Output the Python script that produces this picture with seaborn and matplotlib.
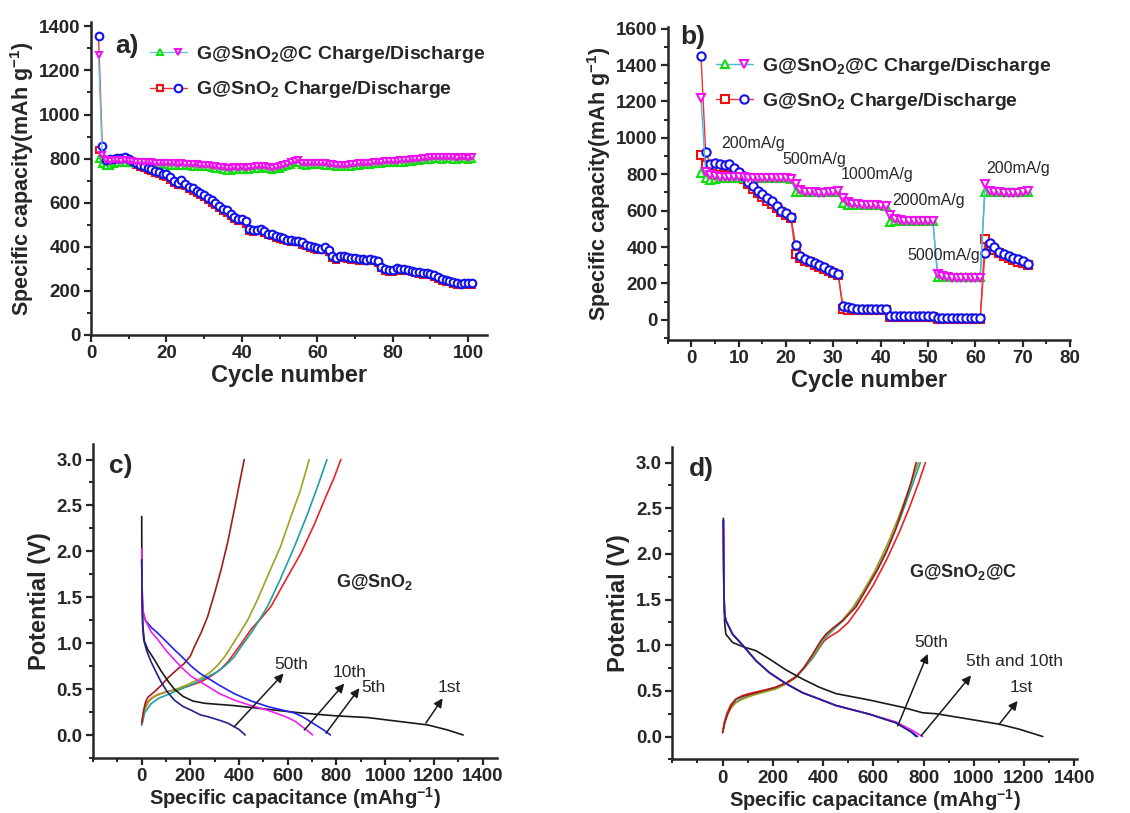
import matplotlib
matplotlib.use("Agg")
import matplotlib.pyplot as plt
from matplotlib.ticker import MultipleLocator
from matplotlib.legend_handler import HandlerTuple
import seaborn as sns

sns.set_style("ticks")
plt.rcParams['font.family'] = ['Liberation Sans', 'DejaVu Sans']
plt.rcParams['font.weight'] = 'bold'
plt.rcParams['mathtext.fontset'] = 'custom'
plt.rcParams['mathtext.rm'] = 'Liberation Sans'
plt.rcParams['mathtext.bf'] = 'Liberation Sans:bold'
plt.rcParams['mathtext.default'] = 'bf'

# ---- panel a: cycling at 200 mA/g ----
a_cycles = list(range(2, 102))
a_sno2_dis = [1358, 855, 795, 800, 800, 802, 805, 808, 798, 790,
              780, 772, 765, 758, 752, 745, 738, 732, 728, 715,
              700, 690, 702, 685, 672, 665, 655, 645, 635, 622,
              612, 600, 585, 572, 565, 550, 535, 528, 525, 515,
              480, 478, 478, 482, 470, 460, 458, 450, 445, 438,
              432, 430, 428, 428, 420, 410, 402, 398, 393, 392,
              398, 385, 358, 348, 358, 356, 352, 350, 348, 345,
              343, 342, 345, 342, 335, 310, 298, 295, 293, 303,
              300, 298, 296, 292, 287, 284, 282, 280, 278, 272,
              262, 255, 250, 246, 240, 234, 233, 235, 236, 235]
a_sno2_chg = [840, 800, 772, 770, 785, 790, 795, 798, 790, 782,
              772, 763, 756, 749, 742, 735, 728, 722, 716, 703,
              690, 680, 688, 674, 662, 655, 645, 635, 624, 612,
              600, 590, 575, 562, 555, 540, 526, 518, 515, 505,
              470, 468, 470, 472, 462, 452, 448, 442, 436, 430,
              424, 421, 420, 420, 410, 402, 394, 390, 385, 384,
              390, 375, 350, 340, 350, 347, 344, 342, 340, 337,
              335, 334, 337, 334, 326, 302, 290, 287, 286, 296,
              292, 290, 288, 284, 279, 276, 274, 272, 270, 264,
              254, 247, 242, 238, 232, 226, 226, 228, 229, 228]
a_snc_dis = [1270, 815, 795, 790, 795, 792, 790, 792, 790, 788,
             786, 785, 785, 784, 783, 782, 780, 780, 779, 778,
             778, 777, 778, 776, 775, 774, 774, 773, 772, 770,
             768, 765, 762, 760, 758, 758, 760, 758, 760, 758,
             760, 762, 765, 765, 768, 762, 758, 762, 765, 770,
             775, 785, 790, 792, 780, 778, 780, 782, 782, 780,
             778, 775, 775, 772, 772, 770, 772, 774, 775, 778,
             780, 782, 782, 784, 785, 786, 788, 788, 790, 790,
             792, 792, 794, 796, 798, 800, 802, 804, 806, 808,
             808, 806, 808, 808, 806, 805, 806, 806, 805, 806]
a_snc_chg = [800, 775, 768, 768, 775, 778, 780, 780, 780, 778,
             776, 775, 775, 774, 773, 772, 770, 770, 769, 768,
             768, 767, 768, 766, 765, 764, 764, 763, 762, 760,
             758, 755, 752, 748, 745, 746, 748, 748, 750, 748,
             750, 752, 755, 755, 758, 752, 748, 752, 755, 760,
             765, 772, 778, 780, 770, 768, 770, 772, 772, 770,
             768, 765, 765, 762, 762, 760, 762, 764, 765, 768,
             770, 772, 772, 774, 775, 776, 778, 778, 780, 780,
             782, 782, 784, 786, 788, 790, 792, 794, 795, 796,
             796, 795, 796, 796, 795, 795, 796, 796, 795, 796]

# ---- panel b: rate capability ----
b_cycles = list(range(2, 72))
b_sno2_dis = [1450, 920, 855, 860, 855, 850, 855, 835, 812, 790,
              760, 735, 710, 690, 672, 655, 628, 600, 585, 565,
              410, 350, 335, 325, 312, 300, 288, 275, 262, 250,
              75, 70, 65, 62, 60, 58, 58, 58, 58, 58,
              22, 22, 22, 22, 22, 22, 22, 22, 22, 22,
              8, 8, 8, 8, 8, 8, 8, 8, 8, 8,
              365, 420, 400, 375, 360, 350, 340, 332, 322, 308]
b_sno2_chg = [905, 850, 845, 845, 840, 840, 840, 825, 800, 775,
              745, 720, 695, 675, 655, 635, 615, 590, 575, 560,
              360, 340, 325, 315, 300, 290, 278, 268, 258, 248,
              60, 55, 55, 55, 55, 55, 55, 55, 55, 55,
              15, 15, 15, 15, 15, 15, 15, 15, 15, 15,
              3, 3, 3, 3, 3, 3, 3, 3, 3, 3,
              445, 405, 385, 365, 350, 340, 330, 320, 310, 300]
b_snc_dis = [1220, 810, 795, 790, 785, 785, 785, 785, 785, 785,
             782, 782, 782, 780, 780, 780, 780, 780, 778, 775,
             745, 712, 702, 700, 700, 698, 698, 700, 705, 710,
             670, 645, 638, 635, 632, 632, 630, 630, 628, 628,
             575, 555, 548, 545, 545, 545, 545, 545, 545, 545,
             250, 240, 235, 232, 230, 232, 232, 232, 232, 232,
             745, 710, 702, 700, 698, 695, 695, 698, 705, 708]
b_snc_chg = [805, 780, 770, 775, 778, 780, 780, 780, 780, 780,
             780, 780, 780, 780, 780, 780, 780, 780, 778, 775,
             705, 700, 700, 700, 700, 700, 700, 700, 700, 700,
             640, 632, 632, 630, 630, 630, 630, 630, 630, 628,
             540, 545, 545, 545, 545, 545, 545, 545, 545, 545,
             235, 235, 235, 235, 235, 235, 235, 235, 235, 235,
             700, 700, 700, 700, 700, 700, 700, 700, 700, 700]
b_rates = ["200mA/g", "500mA/g", "1000mA/g", "2000mA/g", "5000mA/g", "200mA/g"]
b_rate_pos = [(6.2, 967), (19.1, 879), (31.6, 797), (42.4, 654), (45.6, 352), (62.3, 830)]

# ---- panel c: G@SnO2 voltage profiles ----
c_curves = {
    "dis_1st": ([0, 1, 4, 11, 25, 50, 79, 110, 134, 170, 210, 260, 380, 517, 654, 791, 928, 1065, 1174, 1256, 1320],
                [2.38, 1.6, 1.2, 1.02, 0.93, 0.83, 0.70, 0.58, 0.50, 0.42, 0.37, 0.345, 0.32, 0.28, 0.24, 0.21, 0.19, 0.145, 0.11, 0.055, 0.0]),
    "dis_5th": ([0, 2, 6, 15, 40, 66, 100, 134, 170, 203, 240, 271, 320, 380, 450, 517, 580, 627, 660, 690, 720, 750, 775],
                [1.91, 1.5, 1.32, 1.25, 1.17, 1.11, 1.02, 0.93, 0.84, 0.75, 0.67, 0.62, 0.54, 0.45, 0.37, 0.31, 0.27, 0.24, 0.20, 0.15, 0.10, 0.05, 0.0]),
    "dis_10th": ([0, 2, 6, 15, 40, 66, 100, 134, 170, 203, 240, 271, 320, 380, 450, 517, 560, 599, 630, 654, 680, 702],
                 [2.03, 1.6, 1.35, 1.25, 1.12, 1.04, 0.92, 0.82, 0.72, 0.64, 0.58, 0.53, 0.45, 0.38, 0.32, 0.27, 0.23, 0.19, 0.15, 0.10, 0.05, 0.0]),
    "dis_50th": ([0, 2, 5, 8, 20, 38, 60, 79, 105, 134, 170, 203, 240, 271, 320, 353, 380, 400, 425],
                 [1.91, 1.4, 1.15, 1.04, 0.92, 0.80, 0.68, 0.58, 0.47, 0.38, 0.31, 0.27, 0.22, 0.20, 0.16, 0.13, 0.09, 0.06, 0.0]),
    "chg_1st": ([0, 4, 10, 25, 40, 66, 100, 134, 190, 244, 290, 326, 355, 380, 410, 449, 490, 531, 590, 654, 710, 757, 790, 818],
                [0.11, 0.16, 0.27, 0.36, 0.40, 0.44, 0.47, 0.49, 0.53, 0.58, 0.65, 0.72, 0.80, 0.89, 1.00, 1.15, 1.27, 1.40, 1.68, 1.98, 2.30, 2.60, 2.80, 3.0]),
    "chg_5th": ([0, 4, 12, 38, 70, 107, 160, 216, 260, 312, 345, 380, 410, 449, 480, 517, 570, 627, 680, 723, 761],
                [0.11, 0.15, 0.24, 0.34, 0.40, 0.44, 0.50, 0.56, 0.62, 0.69, 0.76, 0.85, 0.97, 1.11, 1.24, 1.40, 1.70, 2.05, 2.40, 2.71, 3.0]),
    "chg_10th": ([0, 4, 11, 30, 52, 90, 134, 190, 244, 280, 312, 340, 367, 400, 435, 475, 517, 570, 613, 650, 688],
                 [0.13, 0.20, 0.27, 0.37, 0.42, 0.46, 0.49, 0.55, 0.62, 0.68, 0.76, 0.85, 0.96, 1.10, 1.25, 1.47, 1.73, 2.05, 2.38, 2.65, 3.0]),
    "chg_50th": ([0, 4, 8, 16, 25, 52, 80, 107, 140, 175, 200, 216, 245, 271, 300, 326, 355, 380, 400, 421],
                 [0.13, 0.20, 0.27, 0.36, 0.41, 0.47, 0.54, 0.62, 0.70, 0.78, 0.86, 0.96, 1.12, 1.29, 1.55, 1.80, 2.12, 2.45, 2.72, 3.0]),
}
c_colors = {"dis_1st": "#1a1a1a", "dis_5th": "#2222ee", "dis_10th": "#ee22ee", "dis_50th": "#222288",
            "chg_1st": "#ee2222", "chg_5th": "#1f9f9f", "chg_10th": "#a0a020", "chg_50th": "#a01c1c"}
c_labels = ["50th", "10th", "5th", "1st"]
c_label_pos = [(543, 0.77), (785, 0.68), (901, 0.52), (1215, 0.52)]
c_arrows = [((380, 0.09), (583, 0.67)), ((668, 0.055), (832, 0.56)),
            ((757, 0.02), (894, 0.51)), ((1167, 0.13), (1236, 0.40))]

# ---- panel d: G@SnO2@C voltage profiles ----
d_curves = {
    "dis_1st": ([3, 5, 8, 13, 40, 80, 133, 186, 252, 318, 385, 451, 584, 717, 796, 849, 982, 1101, 1181, 1274],
                [2.39, 1.6, 1.25, 1.12, 1.03, 0.985, 0.94, 0.85, 0.73, 0.63, 0.54, 0.47, 0.40, 0.32, 0.26, 0.25, 0.19, 0.135, 0.08, 0.0]),
    "dis_5th": ([3, 5, 8, 13, 40, 80, 133, 186, 252, 318, 385, 451, 584, 690, 756, 776],
                [2.37, 1.6, 1.35, 1.27, 1.12, 1.0, 0.83, 0.70, 0.58, 0.48, 0.41, 0.34, 0.245, 0.15, 0.044, 0.0]),
    "dis_10th": ([3, 5, 8, 13, 40, 80, 133, 186, 252, 318, 385, 451, 584, 690, 760, 796],
                 [2.37, 1.6, 1.35, 1.27, 1.12, 1.0, 0.83, 0.70, 0.58, 0.48, 0.41, 0.34, 0.245, 0.16, 0.06, 0.0]),
    "dis_50th": ([3, 5, 8, 13, 40, 80, 133, 186, 252, 318, 385, 451, 584, 690, 750, 770],
                 [2.37, 1.6, 1.35, 1.27, 1.12, 1.0, 0.83, 0.70, 0.58, 0.48, 0.41, 0.34, 0.245, 0.15, 0.05, 0.0]),
    "chg_1st": ([0, 3, 8, 18, 33, 53, 80, 119, 170, 212, 255, 292, 325, 358, 385, 405, 430, 460, 500, 545, 600, 655, 705, 745, 780, 807],
                [0.05, 0.09, 0.17, 0.26, 0.35, 0.41, 0.45, 0.48, 0.51, 0.54, 0.59, 0.66, 0.75, 0.86, 0.97, 1.05, 1.10, 1.15, 1.25, 1.42, 1.66, 1.95, 2.25, 2.52, 2.78, 3.0]),
    "chg_5th": ([0, 3, 8, 18, 33, 53, 80, 119, 170, 212, 255, 292, 325, 358, 385, 408, 440, 480, 520, 560, 610, 660, 705, 745, 787],
                [0.05, 0.08, 0.15, 0.23, 0.32, 0.38, 0.42, 0.46, 0.50, 0.53, 0.58, 0.65, 0.75, 0.86, 0.98, 1.08, 1.17, 1.27, 1.40, 1.56, 1.80, 2.08, 2.38, 2.68, 3.0]),
    "chg_10th": ([0, 3, 8, 18, 33, 53, 80, 119, 170, 212, 255, 292, 325, 358, 385, 405, 435, 475, 515, 555, 605, 655, 700, 740, 779],
                 [0.06, 0.09, 0.15, 0.23, 0.31, 0.37, 0.41, 0.45, 0.49, 0.52, 0.58, 0.65, 0.76, 0.88, 1.00, 1.09, 1.17, 1.27, 1.40, 1.57, 1.81, 2.10, 2.40, 2.70, 3.0]),
    "chg_50th": ([0, 3, 8, 20, 35, 53, 80, 133, 212, 255, 292, 325, 358, 391, 411, 440, 478, 531, 577, 615, 648, 690, 723, 750, 770],
                 [0.04, 0.08, 0.15, 0.25, 0.34, 0.41, 0.44, 0.48, 0.54, 0.59, 0.65, 0.76, 0.90, 1.05, 1.12, 1.19, 1.27, 1.42, 1.64, 1.82, 2.0, 2.28, 2.55, 2.78, 3.0]),
}
d_colors = {"dis_1st": "#1a1a1a", "dis_10th": "#ee22ee", "dis_5th": "#2222ee", "dis_50th": "#222288",
            "chg_1st": "#ee2222", "chg_5th": "#1f9f9f", "chg_10th": "#a0a020", "chg_50th": "#a01c1c"}
d_labels = ["50th", "5th and 10th", "1st"]
d_label_pos = [(763, 1.03), (970, 0.82), (1142, 0.54)]
d_arrows = [((697, 0.117), (816, 0.905)), ((790, 0.007), (989, 0.67)), ((1101, 0.135), (1174, 0.39))]

fig = plt.figure(figsize=(11.3, 8.13), dpi=100)
ax_a = fig.add_axes([0.0805, 0.588, 0.3505, 0.385])
ax_b = fig.add_axes([0.591, 0.582, 0.356, 0.385])
ax_c = fig.add_axes([0.0823, 0.0677, 0.3577, 0.3863])
ax_d = fig.add_axes([0.595, 0.066, 0.358, 0.384])


def style_axes(ax):
    sns.despine(ax=ax)
    for s in ("left", "bottom"):
        ax.spines[s].set_linewidth(1.8)
    ax.tick_params(which="major", direction="out", length=5, width=1.6, labelsize=13.5, pad=2.5)
    ax.tick_params(which="minor", direction="out", length=3, width=1.4)
    for lab in ax.get_xticklabels() + ax.get_yticklabels():
        lab.set_fontweight("bold")


def cycle_series(ax, x, y, mk, mcol, lcol, ms):
    sns.lineplot(x=x, y=y, ax=ax, color=lcol, linewidth=1.0, marker=mk, markersize=ms,
                 markerfacecolor="white", markeredgecolor=mcol, markeredgewidth=1.5,
                 estimator=None, sort=False)
    return ax.lines[-1]


def legend_two(ax, handles, anchor):
    labels = [r"G@SnO$_2$@C Charge/Discharge", r"G@SnO$_2$ Charge/Discharge"]
    ax.legend(handles, labels, handler_map={tuple: HandlerTuple(ndivide=None, pad=0.0)},
              loc="upper left", bbox_to_anchor=anchor, frameon=False, handlelength=1.9,
              handletextpad=0.45, labelspacing=0.75, borderaxespad=0, borderpad=0,
              prop={"size": 14, "weight": "bold"})


# panel a
h_red = cycle_series(ax_a, a_cycles, a_sno2_chg, "s", "#ee1111", "#ee3333", 5)
h_green = cycle_series(ax_a, a_cycles, a_snc_chg, "^", "#11dd11", "#66c8e0", 5)
h_blue = cycle_series(ax_a, a_cycles, a_sno2_dis, "o", "#1111ee", "#ee3333", 5.5)
h_mag = cycle_series(ax_a, a_cycles, a_snc_dis, "v", "#ee11ee", "#66c8e0", 5)
ax_a.set_xlim(0, 105)
ax_a.set_ylim(0, 1420)
ax_a.xaxis.set_major_locator(MultipleLocator(20))
ax_a.xaxis.set_minor_locator(MultipleLocator(10))
ax_a.yaxis.set_major_locator(MultipleLocator(200))
ax_a.yaxis.set_minor_locator(MultipleLocator(100))
ax_a.set_xlabel("Cycle number", fontsize=17, fontweight="bold", labelpad=1)
ax_a.set_ylabel(r"Specific capacity(mAh g$^{-1}$)", fontsize=15.5, fontweight="bold", labelpad=2)
style_axes(ax_a)
legend_two(ax_a, [(h_green, h_mag), (h_red, h_blue)], (0.15, 0.93))
ax_a.text(0.061, 0.923, "a)", transform=ax_a.transAxes, fontsize=19, fontweight="bold", va="center")

# panel b
h_red = cycle_series(ax_b, b_cycles, b_sno2_chg, "s", "#ee1111", "#ee3333", 6)
h_green = cycle_series(ax_b, b_cycles, b_snc_chg, "^", "#11dd11", "#4fb8d8", 6)
h_blue = cycle_series(ax_b, b_cycles, b_sno2_dis, "o", "#1111ee", "#ee3333", 6)
h_mag = cycle_series(ax_b, b_cycles, b_snc_dis, "v", "#ee11ee", "#4fb8d8", 6)
ax_b.set_xlim(-5, 80)
ax_b.set_ylim(-110, 1610)
ax_b.xaxis.set_major_locator(MultipleLocator(10))
ax_b.xaxis.set_minor_locator(MultipleLocator(5))
ax_b.yaxis.set_major_locator(MultipleLocator(200))
ax_b.yaxis.set_minor_locator(MultipleLocator(100))
ax_b.set_xlabel("Cycle number", fontsize=17, fontweight="bold", labelpad=1)
ax_b.set_ylabel(r"Specific capacity(mAh g$^{-1}$)", fontsize=15.5, fontweight="bold", labelpad=2)
style_axes(ax_b)
legend_two(ax_b, [(h_green, h_mag), (h_red, h_blue)], (0.12, 0.908))
for txt, (x, y) in zip(b_rates, b_rate_pos):
    ax_b.text(x, y, txt, fontsize=11.5, fontweight="normal", ha="left", va="center")
ax_b.text(0.03, 0.966, "b)", transform=ax_b.transAxes, fontsize=19, fontweight="bold", va="center")


def profile_panel(ax, curves, colors, labels, label_pos, arrows, name, name_pos, tag):
    order = ["chg_1st", "chg_5th", "chg_10th", "chg_50th", "dis_1st", "dis_5th", "dis_10th", "dis_50th"]
    for key in order:
        xs, ys = curves[key]
        sns.lineplot(x=xs, y=ys, ax=ax, color=colors[key], linewidth=1.2, estimator=None, sort=False)
    ax.set_xlim(-200, 1460)
    ax.set_ylim(-0.25, 3.17)
    ax.set_xticks(range(0, 1401, 200))
    ax.xaxis.set_minor_locator(MultipleLocator(100))
    ax.yaxis.set_major_locator(MultipleLocator(0.5))
    ax.yaxis.set_minor_locator(MultipleLocator(0.25))
    ax.yaxis.set_major_formatter(matplotlib.ticker.FormatStrFormatter("%.1f"))
    ax.set_xlabel(r"Specific capacitance (mAhg$^{-1}$)", fontsize=14.5, fontweight="bold", labelpad=0)
    ax.set_ylabel("Potential (V)", fontsize=17, fontweight="bold", labelpad=4)
    style_axes(ax)
    for txt, (x, y) in zip(labels, label_pos):
        ax.text(x, y, txt, fontsize=12.5, fontweight="normal", ha="left", va="center")
    for tail, head in arrows:
        ax.annotate("", xy=head, xytext=tail,
                    arrowprops=dict(arrowstyle="-|>", color="#1a1a1a", lw=1.1, mutation_scale=13,
                                    shrinkA=0, shrinkB=0))
    ax.text(name_pos[0], name_pos[1], name, fontsize=13, fontweight="bold", ha="left", va="center")
    ax.text(0.04, 0.93, tag, transform=ax.transAxes, fontsize=19, fontweight="bold", va="center")


profile_panel(ax_c, c_curves, c_colors, c_labels, c_label_pos, c_arrows,
              r"G@SnO$_2$", (798, 1.67), "c)")
profile_panel(ax_d, d_curves, d_colors, d_labels, d_label_pos, d_arrows,
              r"G@SnO$_2$@C", (743, 1.80), "d)")
ax_d.set_xlim(-200, 1410)

fig.savefig("out.png", dpi=100)
